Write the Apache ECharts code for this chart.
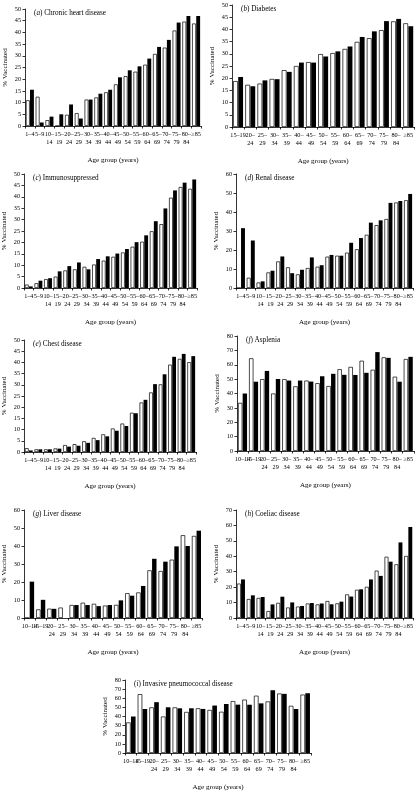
<!DOCTYPE html>
<html>
<head>
<meta charset="utf-8">
<script src="https://cdn.jsdelivr.net/npm/echarts@6/dist/echarts.min.js"></script>
<style>
html,body{margin:0;padding:0;background:#fff;}
#chart{width:416px;height:792px;}
</style>
</head>
<body>
<div id="chart"></div>
<script>
// ---- categories ----
const age18 = ['1–4','5–9','10–14','15–19','20–24','25–29','30–34','35–39','40–44','45–49','50–54','55–59','60–64','65–69','70–74','75–79','80–84','≥85'];
const age15 = ['15–19','20–24','25–29','30–34','35–39','40–44','45–49','50–54','55–59','60–64','65–69','70–74','75–79','80–84','≥85'];
const age16 = ['10–14','15–19','20–24','25–29','30–34','35–39','40–44','45–49','50–54','55–59','60–64','65–69','70–74','75–79','80–84','≥85'];

// ---- series values (white bars = first period, black bars = second period) ----
const heartWhite = [11,12.5,2.5,0,4.8,5.5,11.3,12.2,14.4,17.8,21.3,23.2,26.2,30.8,33.5,40.8,44.6,43.8];
const heartBlack = [15.5,1.5,4,5,9.2,3.2,11.3,13.8,15.5,20.8,23.8,25.5,28.8,33.8,36.8,44.2,47,47];

const diabWhite = [18.8,17.3,17.8,19.7,23.3,25,26.6,29.9,30.3,32,34.9,36.4,39.7,43.3,42.5];
const diabBlack = [20.5,16.7,19.1,19.6,22.6,26.4,26.4,28.9,31,33,36.9,39.2,43.4,44.3,41.3];

const immWhite = [1.5,2.1,3.9,5,7.7,8.2,9.3,10.3,12,13.7,15.6,18.1,20.3,24.9,28,39.6,44.3,43.5];
const immBlack = [0.7,3.2,4.3,7.3,9.6,11.2,8.2,12.7,13.9,15.1,17.1,20.1,23.1,29.3,34.9,42.8,46.2,47.6];

const renalWhite = [0,5.4,2.9,8.2,14,10.9,7.2,10.5,11.2,16.5,17,18.6,20.4,28,33.1,36.3,45,46.2];
const renalBlack = [31.5,25,3.5,9.1,16.6,7.8,9.6,16.1,12,17.4,17,23.8,26.3,34.4,35.6,44.8,45.8,49.5];

const chestWhite = [1.7,1.2,1.2,1.6,3.1,3.5,4.8,6.3,7.9,10.5,12.7,17.5,22.1,26.6,30.2,39,41.6,40.1];
const chestBlack = [0.7,1.2,1.2,1.5,2.4,2.8,4.1,5.3,7,9.5,11.6,17.3,23.3,30.3,34.7,42.5,43.8,42.8];

const asplWhite = [33.5,64.5,50,40,50,45,49,47.2,45.2,56.9,58.5,62.8,56.5,65.2,51.7,64];
const asplBlack = [40,48.2,55.7,50.1,49,49,48.3,52,53.7,53,52.9,54.4,68.8,64.8,48.2,65.5];

const liverWhite = [0,4.8,5.2,5.8,7.2,8.5,7.9,6.9,7.3,13.8,14.2,26.5,26.1,32.4,46,45.6];
const liverBlack = [20.2,10.1,5.1,0,7.2,7.2,6.6,7.2,9.8,12.4,17.8,32.9,31.3,39.8,40,48.5];

const coelWhite = [22.3,12.3,13,4.5,9.8,6.8,7.4,9.4,8.8,11,9.5,15.3,18.3,20.2,30.7,39.7,34.8,40.2];
const coelBlack = [25,14.7,13.6,8.8,13.8,10.1,7.8,9.7,9.4,8.9,10.6,13.9,18.6,25,27.3,36.5,49,59];

const ipdWhite = [33.5,64.5,50,40,50,45,49,47.2,45.2,56.9,58.5,62.8,56.5,65.2,51.7,64];
const ipdBlack = [40,48.2,55.7,50.1,49,49,48.3,52,53.7,53,52.9,54.4,68.8,64.8,48.2,65.5];

// ---- panel titles ----
const titles = [
  ['a','Chronic heart disease'],['b','Diabetes'],['c','Immunosuppressed'],['d','Renal disease'],
  ['e','Chest disease'],['f','Asplenia'],['g','Liver disease'],['h','Coeliac disease'],
  ['i','Invasive pneumococcal disease']
];

const FONT = '"Liberation Serif","Times New Roman",serif';

const panels = [
  {cats:age18, w:heartWhite, b:heartBlack, max:50, step:5, single:2, box:[25,9,176,117]},
  {cats:age15, w:diabWhite, b:diabBlack, max:50, step:5, single:1, box:[232,5,183,122]},
  {cats:age18, w:immWhite, b:immBlack, max:50, step:5, single:2, box:[24,174,173,114]},
  {cats:age18, w:renalWhite, b:renalBlack, max:60, step:10, single:2, box:[236,174,177,114]},
  {cats:age18, w:chestWhite, b:chestBlack, max:50, step:5, single:2, box:[24,340,172,112]},
  {cats:age16, w:asplWhite, b:asplBlack, max:80, step:10, single:2, box:[237,336,178,115]},
  {cats:age16, w:liverWhite, b:liverBlack, max:60, step:10, single:2, box:[24,510,178,108]},
  {cats:age18, w:coelWhite, b:coelBlack, max:70, step:10, single:2, box:[236,510,178,108]},
  {cats:age16, w:ipdWhite, b:ipdBlack, max:80, step:10, single:2, box:[125,680,186,85]}
];

const grid=[], xAxis=[], yAxis=[], series=[], title=[];
panels.forEach((p,k)=>{
  const [l,t,w,h]=p.box;
  grid.push({left:l, top:t, width:w, height:h, containLabel:false});
  xAxis.push({
    type:'category', gridIndex:k, data:p.cats,
    name:'Age group (years)', nameLocation:'middle', nameGap:31,
    nameTextStyle:{fontFamily:FONT, fontSize:7, color:'#000'},
    axisLine:{lineStyle:{color:'#000', width:0.8}},
    axisTick:{show:true, length:2.5, lineStyle:{color:'#000', width:0.8}},
    axisLabel:{
      interval:0, fontFamily:FONT, fontSize:6.2, color:'#000', margin:4, lineHeight:8.5,
      formatter:(v,i)=> (i<p.single || v.charAt(0)==='≥') ? v : v.replace('–','–\n')
    }
  });
  yAxis.push({
    type:'value', gridIndex:k, min:0, max:p.max, interval:p.step,
    name:'% Vaccinated', nameLocation:'middle', nameRotate:90, nameGap:16,
    nameTextStyle:{fontFamily:FONT, fontSize:7, color:'#000'},
    axisLine:{show:true, lineStyle:{color:'#000', width:0.8}},
    axisTick:{show:true, length:2.5, lineStyle:{color:'#000', width:0.8}},
    splitLine:{show:false},
    axisLabel:{fontFamily:FONT, fontSize:6.2, color:'#000', margin:4}
  });
  series.push({
    type:'bar', xAxisIndex:k, yAxisIndex:k, data:p.w,
    itemStyle:{color:'#fff', borderColor:'#000', borderWidth:0.7},
    barGap:'6%', barCategoryGap:'18%', silent:true
  });
  series.push({
    type:'bar', xAxisIndex:k, yAxisIndex:k, data:p.b,
    itemStyle:{color:'#000'},
    barGap:'6%', barCategoryGap:'18%', silent:true
  });
  title.push({
    text:'(' + '{i|' + titles[k][0] + '}) ' + titles[k][1],
    left:l+4, top:t-4,
    textStyle:{fontFamily:FONT, fontSize:7.2, fontWeight:'normal', color:'#000',
      rich:{i:{fontFamily:FONT, fontSize:7.2, fontStyle:'italic', color:'#000'}}}
  });
});

const chart = echarts.init(document.getElementById('chart'), null, {renderer:'canvas'});
chart.setOption({animation:false, backgroundColor:'#fff', title, grid, xAxis, yAxis, series});
</script>
</body>
</html>
